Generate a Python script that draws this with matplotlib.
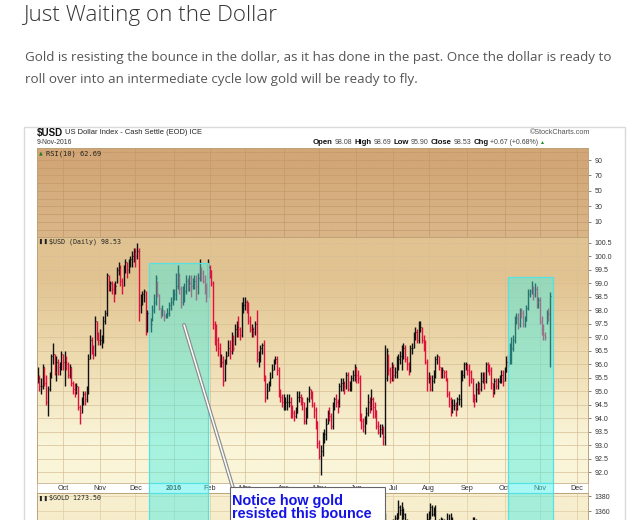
import numpy as np
import pandas as pd
import matplotlib
matplotlib.use("Agg")
import matplotlib.pyplot as plt
import matplotlib.colors as mcolors
from matplotlib.patches import Rectangle, ConnectionPatch

# ---- data: $USD daily bars, one value per business day from 10-Sep-2015 ----
usd_close = [
    95.5, 95.2, 95.2, 95.9, 95.3, 94.6, 95.1, 95.6, 96.3, 96.4, 95.7, 96.1, 95.9, 95.9, 96.4,  # Sep
    96.1, 96.1, 96.0, 95.6, 95.9, 95.3, 95.1, 95.0, 95.2, 94.4, 94.2, 94.7, 94.9, 94.7, 95.0,
    96.2, 96.9, 96.6, 96.4, 97.6, 97.0, 96.9,  # Oct
    96.9, 96.9, 97.6, 97.9, 99.3, 98.9, 99.0, 98.8, 98.7, 98.9, 99.5, 99.6, 99.1, 98.9, 99.6,
    99.8, 99.5, 99.8, 99.9, 100.0, 100.2,  # Nov
    100.0, 100.2, 98.2, 98.4, 98.6, 98.7, 97.2, 97.9, 97.5, 97.5, 98.0, 98.3, 99.2, 98.6, 98.1,
    97.8, 98.0, 97.8, 97.8, 97.9, 98.2, 98.3, 98.6,  # Dec
    98.6, 98.9, 99.3, 98.8, 98.3, 98.5, 98.7, 99.1, 98.9, 99.0, 98.9, 99.0, 99.1, 98.9, 99.2,
    99.5, 99.4, 99.1, 98.9, 98.5, 99.6,  # Jan
    99.5, 99.0, 97.5, 97.1, 96.9, 96.6, 96.1, 96.1, 95.4, 96.0, 96.3, 96.6, 96.5, 97.0, 96.6,
    97.3, 97.4, 97.3, 97.1, 98.1, 98.2,  # Feb
    98.3, 98.2, 97.6, 97.3, 97.3, 97.2, 97.5, 96.2, 96.2, 96.6, 96.7, 95.5, 94.8, 95.0, 95.3,
    95.5, 95.8, 96.1, 96.2, 95.8, 94.9, 94.8, 94.6,  # Mar
    94.6, 94.6, 94.6, 94.6, 94.3, 94.2, 94.1, 94.2, 94.8, 94.8, 94.7, 94.6, 93.9, 94.1, 94.7,
    95.1, 94.9, 94.5, 94.3, 93.9, 93.1,  # Apr
    92.6, 92.8, 93.2, 93.4, 93.8, 94.2, 94.1, 93.7, 94.4, 94.7, 94.6, 94.5, 95.2, 95.3, 95.3,
    95.2, 95.6, 95.1, 95.2, 95.5, 95.6, 95.9,  # May
    95.6, 95.5, 94.0, 93.9, 93.7, 93.9, 94.2, 94.6, 94.4, 94.7, 94.4, 94.3, 93.7, 93.5, 93.6,
    93.6, 93.3, 95.5, 96.5, 95.8, 95.5, 95.9,  # Jun
    95.6, 95.7, 96.1, 96.2, 96.3, 96.3, 96.6, 96.2, 96.0, 95.7, 96.6, 96.6, 97.1, 97.2, 96.9,
    97.4, 97.4, 96.9, 96.8, 96.1, 95.5,  # Jul
    95.5, 95.1, 95.4, 95.7, 96.2, 96.3, 95.9, 95.6, 95.8, 95.7, 95.5, 94.9, 94.7, 94.3, 94.5,
    94.5, 94.4, 94.7, 94.7, 95.6, 95.6, 96.0, 96.0,  # Aug
    95.8, 95.7, 95.5, 94.8, 94.7, 95.1, 95.3, 95.1, 95.4, 95.5, 95.4, 96.0, 95.9, 95.8, 95.3,
    95.0, 95.4, 95.2, 95.4, 95.5, 95.6, 95.4,  # Sep
    95.7, 96.1, 96.0, 96.6, 96.6, 96.9, 97.6, 97.7, 97.5, 98.0, 97.9, 97.5, 97.6, 98.1, 98.6,
    98.7, 98.9, 98.6, 98.8, 98.3, 98.4,  # Oct
    97.6, 97.3, 97.1, 97.0, 97.9, 97.86, 98.53,  # Nov
]
usd_high = [
    95.9, 95.6, 95.5, 96.0, 95.9, 95.6, 95.2, 95.7, 96.4, 96.8, 96.4, 96.3, 96.2, 96.1, 96.5,
    96.4, 96.5, 96.3, 96.1, 96.0, 95.9, 95.4, 95.3, 95.3, 95.2, 94.5, 94.8, 95.0, 95.0, 95.2,
    96.4, 97.1, 97.0, 96.7, 97.8, 97.6, 97.2,
    97.3, 97.1, 97.8, 98.0, 99.4, 99.3, 99.1, 99.1, 99.0, 99.1, 99.6, 99.8, 99.7, 99.2, 99.7,
    99.9, 99.8, 99.9, 100.0, 100.2, 100.3,
    100.3, 100.5, 100.3, 98.6, 98.7, 98.8, 98.7, 98.0, 97.9, 97.7, 98.2, 98.6, 99.3, 99.1, 98.6,
    98.1, 98.2, 98.0, 97.9, 98.1, 98.3, 98.5, 98.8,
    98.8, 99.4, 99.7, 99.4, 98.9, 98.9, 99.0, 99.3, 99.2, 99.3, 99.3, 99.2, 99.3, 99.3, 99.4,
    99.9, 99.6, 99.5, 99.3, 99.0, 99.9,
    99.7, 99.5, 99.1, 97.6, 97.5, 97.0, 96.8, 96.4, 96.3, 96.2, 96.5, 96.9, 96.9, 97.2, 97.1,
    97.5, 97.6, 97.8, 97.4, 98.3, 98.5,
    98.5, 98.4, 98.3, 97.8, 97.5, 97.4, 97.6, 98.0, 96.5, 96.7, 96.8, 96.9, 95.6, 95.3, 95.4,
    95.7, 96.0, 96.2, 96.3, 96.3, 95.9, 95.1, 94.9,
    94.9, 94.8, 94.9, 94.9, 94.8, 94.5, 94.3, 94.4, 95.0, 95.0, 94.9, 94.8, 94.6, 94.4, 94.8,
    95.2, 95.1, 95.0, 94.6, 94.4, 93.9,
    93.2, 93.0, 93.5, 93.6, 94.0, 94.3, 94.4, 94.2, 94.6, 94.8, 94.9, 94.7, 95.3, 95.5, 95.5,
    95.4, 95.7, 95.7, 95.4, 95.6, 95.8, 96.0,
    95.9, 95.8, 95.6, 94.2, 94.0, 94.1, 94.4, 94.9, 94.8, 95.1, 94.8, 94.6, 94.3, 93.9, 93.8,
    93.8, 93.7, 96.7, 96.6, 96.4, 95.9, 96.1,
    96.0, 95.9, 96.3, 96.4, 96.5, 96.7, 96.8, 96.7, 96.3, 96.1, 96.7, 96.8, 97.2, 97.4, 97.3,
    97.6, 97.6, 97.4, 97.1, 96.9, 96.2,
    95.7, 95.6, 95.6, 95.8, 96.3, 96.4, 96.3, 95.9, 95.9, 95.8, 95.8, 95.5, 95.0, 94.8, 94.7,
    94.7, 94.6, 94.8, 94.9, 95.8, 95.8, 96.1, 96.1,
    96.0, 96.0, 95.8, 95.5, 94.9, 95.3, 95.4, 95.3, 95.7, 95.7, 95.7, 96.1, 96.1, 96.0, 95.9,
    95.3, 95.5, 95.5, 95.5, 95.6, 95.8, 95.8,
    95.9, 96.3, 96.4, 96.8, 97.0, 97.1, 97.8, 97.9, 97.9, 98.1, 98.1, 98.0, 97.8, 98.2, 98.8,
    98.8, 99.1, 98.9, 99.0, 98.9, 98.5,
    98.5, 97.8, 97.5, 97.2, 98.0, 98.1, 98.69,
]
usd_low = [
    95.3, 95.0, 94.9, 95.1, 95.2, 94.5, 94.1, 95.0, 95.5, 96.0, 95.6, 95.4, 95.6, 95.6, 95.8,
    95.8, 95.2, 95.8, 95.5, 95.5, 95.2, 94.9, 94.8, 94.9, 94.3, 93.8, 94.2, 94.5, 94.5, 94.6,
    94.9, 96.2, 96.4, 96.2, 96.3, 96.9, 96.7,
    96.7, 96.6, 96.8, 97.5, 97.8, 98.7, 98.7, 98.6, 98.3, 98.6, 99.0, 99.3, 98.9, 98.6, 98.9,
    99.4, 99.2, 99.4, 99.6, 99.6, 99.8,
    99.6, 99.9, 97.6, 97.9, 98.2, 98.3, 97.1, 97.2, 97.3, 97.2, 97.6, 97.9, 98.2, 98.5, 98.0,
    97.7, 97.8, 97.6, 97.7, 97.7, 97.8, 98.0, 98.2,
    98.4, 98.4, 98.8, 98.6, 98.1, 98.2, 98.3, 98.6, 98.7, 98.7, 98.5, 98.8, 98.8, 98.4, 98.6,
    99.1, 99.1, 99.0, 98.6, 98.3, 98.5,
    99.2, 98.9, 97.3, 96.7, 96.5, 96.3, 95.9, 95.9, 95.2, 95.4, 96.0, 96.3, 96.2, 96.4, 96.5,
    96.7, 97.0, 97.0, 96.9, 97.0, 97.9,
    98.0, 97.9, 97.5, 97.2, 97.0, 97.0, 97.1, 96.1, 95.9, 96.1, 96.4, 95.4, 94.6, 94.7, 95.0,
    95.2, 95.5, 95.8, 96.0, 95.6, 94.8, 94.6, 94.4,
    94.3, 94.3, 94.3, 94.4, 94.0, 94.0, 93.9, 94.0, 94.2, 94.6, 94.5, 94.3, 93.8, 93.8, 94.0,
    94.6, 94.7, 94.4, 94.0, 93.6, 92.9,
    92.5, 91.9, 92.6, 93.1, 93.2, 93.8, 93.9, 93.6, 93.6, 94.3, 94.4, 94.2, 94.4, 95.0, 95.0,
    94.9, 95.1, 95.0, 95.0, 95.0, 95.4, 95.4,
    95.3, 95.3, 93.9, 93.6, 93.5, 93.4, 93.8, 94.1, 94.2, 94.3, 94.0, 94.0, 93.6, 93.4, 93.3,
    93.4, 93.0, 93.0, 95.4, 95.6, 95.3, 95.4,
    95.4, 95.5, 95.5, 95.8, 96.0, 95.8, 96.2, 96.1, 95.8, 95.6, 95.7, 96.4, 96.6, 96.9, 96.8,
    96.8, 97.2, 96.8, 96.5, 96.0, 95.0,
    95.3, 95.0, 95.0, 95.3, 95.5, 96.0, 95.8, 95.5, 95.5, 95.5, 95.4, 94.8, 94.4, 94.1, 94.2,
    94.3, 94.1, 94.3, 94.5, 94.4, 95.4, 95.5, 95.8,
    95.6, 95.2, 95.3, 94.6, 94.4, 94.6, 94.9, 94.9, 95.0, 95.3, 95.1, 95.3, 95.7, 95.6, 95.1,
    94.8, 94.9, 95.1, 95.1, 95.3, 95.3, 95.2,
    95.4, 95.7, 95.9, 96.0, 96.0, 96.5, 96.8, 97.5, 97.3, 97.4, 97.7, 97.4, 97.4, 97.6, 98.0,
    98.5, 98.6, 98.4, 98.5, 98.1, 98.1,
    97.5, 97.1, 96.9, 96.9, 97.5, 97.6, 95.90,
]

# ---- $GOLD daily bars from 24-Jun-2016 (only the top of this panel is in view) ----
gold_start = "2016-06-24"
gold_high = [1358, 1336, 1328, 1326, 1330,
             1350, 1355, 1358, 1375, 1368, 1372, 1364, 1358, 1350, 1346, 1339, 1332, 1333, 1335,
             1336, 1335, 1325, 1330, 1342, 1345, 1357,
             1360, 1371, 1368, 1366, 1368, 1342, 1350, 1352, 1351, 1349, 1346, 1357, 1356, 1358,
             1352, 1345, 1346, 1343, 1329, 1343, 1328, 1325, 1316,
             1320, 1329, 1334, 1352, 1352, 1349, 1340, 1332, 1330, 1328, 1324, 1317, 1318, 1318,
             1338, 1344, 1342, 1344, 1340, 1329, 1328, 1325]
gold_low = [1250, 1311, 1306, 1310, 1309,
            1319, 1335, 1340, 1349, 1355, 1336, 1350, 1328, 1333, 1320, 1323, 1321, 1321, 1313,
            1314, 1315, 1312, 1315, 1317, 1332, 1326,
            1345, 1350, 1353, 1353, 1334, 1330, 1334, 1339, 1336, 1333, 1333, 1338, 1341, 1345,
            1338, 1332, 1333, 1320, 1318, 1316, 1315, 1310, 1302,
            1305, 1310, 1320, 1322, 1340, 1332, 1323, 1321, 1318, 1318, 1311, 1305, 1308, 1309,
            1313, 1333, 1332, 1334, 1322, 1318, 1315, 1312]
gold_close = [1315, 1324, 1312, 1316, 1321,
              1340, 1351, 1357, 1366, 1362, 1366, 1356, 1334, 1343, 1333, 1327, 1330, 1331, 1317,
              1330, 1322, 1318, 1320, 1338, 1340, 1350,
              1352, 1366, 1356, 1363, 1336, 1337, 1340, 1346, 1340, 1335, 1339, 1346, 1348, 1350,
              1341, 1337, 1340, 1324, 1324, 1321, 1322, 1311, 1308,
              1316, 1326, 1329, 1350, 1347, 1336, 1329, 1328, 1322, 1323, 1317, 1310, 1314, 1314,
              1336, 1336, 1338, 1338, 1327, 1323, 1320, 1316]

# highlighted stretches (start bar, end bar, top of box on the $USD scale)
hl_spans = [(66.0, 101.0, 99.76), (279.0, 305.7, 99.24)]

W, H = 640, 520
XMIN, XMAX = -0.43, 326.5
USD_LIM = (91.6, 100.72)
RSI_LIM = (-9.4, 105.5)
GOLD_LIM = (1294.7, 1384.0)

CF = "Liberation Sans"
RED, BLACK = "#e0103c", "#111111"
CYAN_FC = (0.25, 0.94, 0.91, 0.45)
CYAN_EC = "#56e2e2"


def box(x0, y0, x1, y1):
    return [x0 / W, 1 - y1 / H, (x1 - x0) / W, (y1 - y0) / H]


def fx(x):
    return x / W


def fy(y):
    return 1 - y / H


def shade(ax, colors):
    img = np.array([[mcolors.to_rgb(c)] for c in colors])
    x0, x1 = ax.get_xlim()
    y0, y1 = ax.get_ylim()
    ax.imshow(img, extent=[x0, x1, y0, y1], aspect="auto",
              interpolation="bilinear", zorder=0)
    ax.set_xlim(x0, x1)
    ax.set_ylim(y0, y1)


def style_panel(ax, ylim, bg, grid_c):
    ax.set_xlim(XMIN, XMAX)
    ax.set_ylim(*ylim)
    shade(ax, bg)
    ax.yaxis.tick_right()
    ax.set_xticks(month_idx)
    ax.tick_params(axis="x", length=0, labelbottom=False)
    ax.tick_params(axis="y", which="major", length=2, width=0.5, pad=3,
                   labelsize=5, colors="#555555", labelcolor="#333333")
    ax.tick_params(axis="y", which="minor", length=0)
    ax.grid(True, which="both", color=grid_c, lw=0.5)
    ax.set_axisbelow(True)
    for s in ax.spines.values():
        s.set_color("#bda27a")
        s.set_linewidth(0.7)


def set_labels_font(ax):
    for lab in ax.get_yticklabels():
        lab.set_family(CF)


def draw_bars(ax, x, high, low, close, colors):
    ax.vlines(x, low, high, colors=colors, lw=1.0, zorder=2)
    ax.hlines(close, x, x + 0.55, colors=colors, lw=0.8, zorder=2)


def seq_text(x_px, y_px, parts, gap=2.0):
    r = fig.canvas.get_renderer()
    x = x_px
    for s, weight, size, color in parts:
        t = fig.text(fx(x), fy(y_px), s, family=CF, weight=weight, size=size,
                     color=color, ha="left", va="center")
        x += t.get_window_extent(renderer=r).width + gap
    return x


# ---- dates / positions ----
n = len(usd_close)
assert len(usd_high) == n and len(usd_low) == n
dates = pd.bdate_range("2015-09-10", periods=n)
axis_dates = pd.bdate_range("2015-09-10", "2016-12-01")
new_month = axis_dates.month != np.roll(axis_dates.month, 1)
new_month[0] = False
month_idx = np.nonzero(new_month)[0]
month_lab = [str(d.year) if d.month == 1 else d.strftime("%b") for d in axis_dates[month_idx]]

x_usd = np.arange(n)
c = np.array(usd_close)
prev = np.r_[c[0], c[:-1]]
usd_cols = [BLACK if a >= b else RED for a, b in zip(c, prev)]

g0 = int(np.nonzero(dates == pd.Timestamp(gold_start))[0][0])
x_gold = np.arange(g0, g0 + len(gold_close))

# ---- figure ----
fig = plt.figure(figsize=(6.4, 5.2), dpi=100)
fig.patch.set_facecolor("white")

fig.text(fx(23), fy(15), "Just Waiting on the Dollar", family="Open Sans",
         weight="light", size=16.2, color="#333333", va="center")
fig.text(fx(25), fy(57), "Gold is resisting the bounce in the dollar, as it has done in the past. "
         "Once the dollar is ready to", family="Open Sans", size=9.65, color="#555555", va="center")
fig.text(fx(25), fy(80), "roll over into an intermediate cycle low gold will be ready to fly.",
         family="Open Sans", size=9.65, color="#555555", va="center")

# chart frame
fig.add_artist(Rectangle((fx(24), fy(560)), (625 - 24) / W, (560 - 127) / H,
                         transform=fig.transFigure, fill=False, ec="#dadada", lw=1))

seq_text(37, 133, [("$USD", "bold", 7.0, "#111111"),
                   ("US Dollar Index - Cash Settle (EOD) ICE", "normal", 5.4, "#222222")], gap=1.5)
fig.text(fx(37), fy(143), "9-Nov-2016", family=CF, size=4.9, color="#333333", va="center")
fig.text(fx(590), fy(133), "\u00a9StockCharts.com", family=CF, size=5.2, color="#555555",
         ha="right", va="center")
seq_text(313, 143, [("Open", "bold", 5.6, "#111111"), ("98.08", "normal", 5.0, "#444444"),
                    ("High", "bold", 5.6, "#111111"), ("98.69", "normal", 5.0, "#444444"),
                    ("Low", "bold", 5.6, "#111111"), ("95.90", "normal", 5.0, "#444444"),
                    ("Close", "bold", 5.6, "#111111"), ("98.53", "normal", 5.0, "#444444"),
                    ("Chg", "bold", 5.6, "#111111"), ("+0.67 (+0.68%)", "normal", 5.0, "#444444"),
                    ("\u25b2", "normal", 3.6, "#1a8a1a")])

# RSI panel (line not shown in the reference)
ax_rsi = fig.add_axes(box(37, 148, 588, 237))
style_panel(ax_rsi, RSI_LIM, ["#d2a676", "#d5ad7e", "#d9b486"], "#c49a68")
ax_rsi.set_yticks([10, 30, 50, 70, 90])
ax_rsi.set_yticks(np.arange(0, 101, 10), minor=True)
set_labels_font(ax_rsi)
ax_rsi.text(0.004, 0.94, "\u25b2", transform=ax_rsi.transAxes, size=3.5, color="#1f7a1f", va="center")
ax_rsi.text(0.017, 0.94, "RSI(10) 62.69", transform=ax_rsi.transAxes, family="DejaVu Sans Mono",
            size=5.0, color="#222222", va="center")

# $USD panel
ax_usd = fig.add_axes(box(37, 237, 588, 483))
style_panel(ax_usd, USD_LIM, ["#e1c391", "#eedcb1", "#faf5d9"], "#d7bf96")
usd_ticks = np.arange(92.0, 100.51, 0.5)
ax_usd.set_yticks(usd_ticks)
ax_usd.set_yticklabels([f"{v:.1f}" for v in usd_ticks])
set_labels_font(ax_usd)
draw_bars(ax_usd, x_usd, usd_high, usd_low, usd_close, usd_cols)
ax_usd.text(0.003, 0.98, "\u258c\u2590", transform=ax_usd.transAxes, size=3.6, color="#222222", va="center")
ax_usd.text(0.022, 0.98, "$USD (Daily) 98.53", transform=ax_usd.transAxes, family="DejaVu Sans Mono",
            size=4.8, color="#222222", va="center")
for x0, x1, top in hl_spans:
    ax_usd.add_patch(Rectangle((x0, USD_LIM[0]), x1 - x0, top - USD_LIM[0],
                               fc=CYAN_FC, ec=CYAN_EC, lw=0.9, zorder=3))

# date strip
ax_date = fig.add_axes(box(37, 483, 588, 493))
ax_date.set_xlim(XMIN, XMAX)
ax_date.set_ylim(0, 1)
ax_date.set_xticks([])
ax_date.set_yticks([])
for s in ax_date.spines.values():
    s.set_color("#c9b28c")
    s.set_linewidth(0.6)
for i, lab in zip(month_idx, month_lab):
    ax_date.text(i, 0.45, lab, ha="center", va="center", family=CF, size=5.2,
                 color="#333333", weight="bold" if lab.isdigit() else "normal")
for x0, x1, top in hl_spans:
    ax_date.axvspan(x0, x1, fc=CYAN_FC, ec=CYAN_EC, lw=0.9, zorder=3)

# $GOLD panel (cut off by the page)
ax_gold = fig.add_axes(box(37, 493, 588, 560))
style_panel(ax_gold, GOLD_LIM, ["#f7eece", "#f4e7c1"], "#e0cda4")
ax_gold.set_yticks([1360, 1380])
ax_gold.set_yticks([1300, 1320, 1340], minor=True)
set_labels_font(ax_gold)
draw_bars(ax_gold, x_gold, gold_high, gold_low, gold_close, BLACK)
ax_gold.text(0.003, 0.925, "\u258c\u2590", transform=ax_gold.transAxes, size=3.6, color="#222222", va="center")
ax_gold.text(0.022, 0.925, "$GOLD 1273.50", transform=ax_gold.transAxes, family="DejaVu Sans Mono",
             size=4.8, color="#222222", va="center")
for x0, x1, top in hl_spans:
    ax_gold.axvspan(x0, x1, fc=CYAN_FC, ec=CYAN_EC, lw=0.9, zorder=3)

# annotation pointer and note
for lw, col in [(2.8, "#8c8c8c"), (1.1, "#ffffff")]:
    con = ConnectionPatch(xyA=(86.8, 97.46), coordsA=ax_usd.transData,
                          xyB=(fx(233), fy(488)), coordsB=fig.transFigure,
                          color=col, lw=lw, zorder=15)
    fig.add_artist(con)
fig.add_artist(Rectangle((fx(230), fy(560)), (385 - 230) / W, (560 - 487) / H,
                         transform=fig.transFigure, fc="white", ec="#666666", lw=0.8, zorder=20))
fig.text(fx(232), fy(501), "Notice how gold", family=CF, weight="bold", size=10.4,
         color="#1414e6", va="center", zorder=21)
fig.text(fx(232), fy(513.5), "resisted this bounce", family=CF, weight="bold", size=10.4,
         color="#1414e6", va="center", zorder=21)

fig.savefig("out.png", dpi=100)
